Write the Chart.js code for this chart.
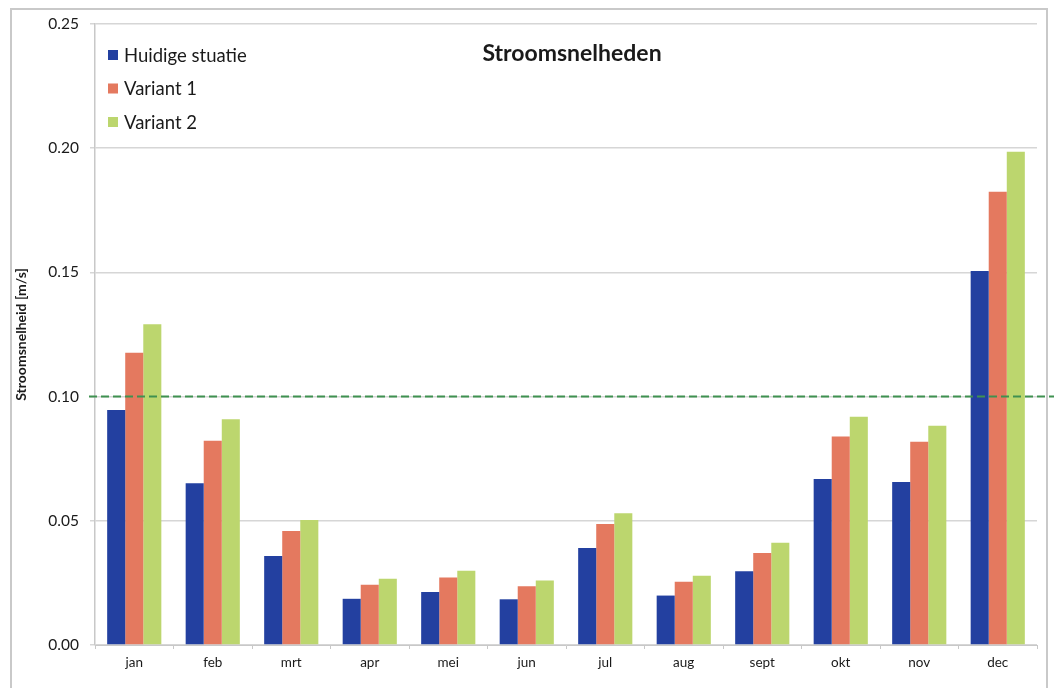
<!DOCTYPE html>
<html>
<head>
<meta charset="utf-8">
<script src="https://cdn.jsdelivr.net/npm/chart.js@4"></script>
<style>
  html, body { margin: 0; padding: 0; background: #fff; overflow: hidden; }
  #wrap { position: relative; width: 1054px; height: 688px; }
  #frame { position: absolute; left: 10px; top: 8px; width: 1038px; height: 700px; border: 2px solid #c9c9c9; box-sizing: border-box; }
  canvas { position: absolute; left: 0; top: 0; }
</style>
</head>
<body>
<div id="wrap">
  <div id="frame"></div>
  <canvas id="chart" width="1054" height="688"></canvas>
</div>
<script>
// --- data ---
const months = ['jan', 'feb', 'mrt', 'apr', 'mei', 'jun', 'jul', 'aug', 'sept', 'okt', 'nov', 'dec'];
const huidige = [0.0946, 0.0651, 0.0358, 0.0186, 0.0213, 0.0184, 0.0390, 0.0199, 0.0297, 0.0668, 0.0656, 0.1506];
const variant1 = [0.1177, 0.0822, 0.0459, 0.0243, 0.0272, 0.0237, 0.0487, 0.0255, 0.0370, 0.0839, 0.0818, 0.1825];
const variant2 = [0.1291, 0.0909, 0.0503, 0.0267, 0.0299, 0.0260, 0.0530, 0.0279, 0.0412, 0.0919, 0.0883, 0.1986];
const seriesNames = ['Huidige stuatie', 'Variant 1', 'Variant 2'];
const limitValue = 0.10;

const colors = ['#2340a0', '#e4795f', '#bcd66e'];
const fontFamily = 'Lato, "Open Sans", "Liberation Sans", sans-serif';

// title, legend and the 0.10 dashed line are drawn inside the plot area
const overlayPlugin = {
    id: 'overlay',
    afterDatasetsDraw(chart) {
        const ctx = chart.ctx;
        const y = chart.scales.y.getPixelForValue(limitValue);
        ctx.save();
        ctx.strokeStyle = '#3f9150';
        ctx.lineWidth = 2;
        ctx.setLineDash([8, 4]);
        ctx.beginPath();
        ctx.moveTo(chart.chartArea.left - 6, y);
        ctx.lineTo(chart.width, y);
        ctx.stroke();
        ctx.restore();
    },
    afterDraw(chart) {
        const ctx = chart.ctx;
        const area = chart.chartArea;
        ctx.save();
        ctx.fillStyle = '#1a1a1a';
        ctx.font = 'bold 23px ' + fontFamily;
        ctx.textAlign = 'center';
        ctx.textBaseline = 'middle';
        ctx.fillText('Stroomsnelheden', 572, 54);

        ctx.font = '18.5px ' + fontFamily;
        ctx.textAlign = 'left';
        chart.data.datasets.forEach((ds, i) => {
            const cy = 55 + i * 33.5;
            ctx.fillStyle = ds.backgroundColor;
            ctx.fillRect(area.left + 13, cy - 5, 10, 10);
            ctx.fillStyle = '#1a1a1a';
            ctx.fillText(ds.label, area.left + 29, cy + 1);
        });
        ctx.restore();
    }
};

new Chart(document.getElementById('chart'), {
    type: 'bar',
    data: {
        labels: months,
        datasets: [
            { label: seriesNames[0], data: huidige, backgroundColor: colors[0] },
            { label: seriesNames[1], data: variant1, backgroundColor: colors[1] },
            { label: seriesNames[2], data: variant2, backgroundColor: colors[2] }
        ]
    },
    options: {
        responsive: false,
        animation: false,
        layout: { padding: { top: 24, right: 17, left: 0, bottom: 0 } },
        datasets: { bar: { categoryPercentage: 0.69, barPercentage: 1.0 } },
        plugins: {
            legend: { display: false },
            tooltip: { enabled: false }
        },
        scales: {
            x: {
                grid: { display: true, drawOnChartArea: false, offset: true, tickLength: 4, color: '#c8c8c8' },
                border: { color: '#c8c8c8' },
                ticks: { color: '#1a1a1a', font: { family: fontFamily, size: 13.5 }, padding: 6 },
                afterFit(scale) { scale.height = 43; }
            },
            y: {
                min: 0,
                max: 0.25,
                ticks: {
                    stepSize: 0.05,
                    color: '#1a1a1a',
                    font: { family: fontFamily, size: 15.5 },
                    padding: 11,
                    callback: v => v.toFixed(2)
                },
                grid: { color: '#d6d6d6', tickLength: 5, lineWidth: 1.5 },
                border: { color: '#c8c8c8', width: 1.5 },
                title: {
                    display: true,
                    text: 'Stroomsnelheid [m/s]',
                    color: '#1a1a1a',
                    font: { family: fontFamily, size: 14, weight: 'bold' },
                    padding: { top: 13, bottom: 0 }
                },
                afterFit(scale) { scale.width = 95; }
            }
        }
    },
    plugins: [overlayPlugin]
});
</script>
</body>
</html>
